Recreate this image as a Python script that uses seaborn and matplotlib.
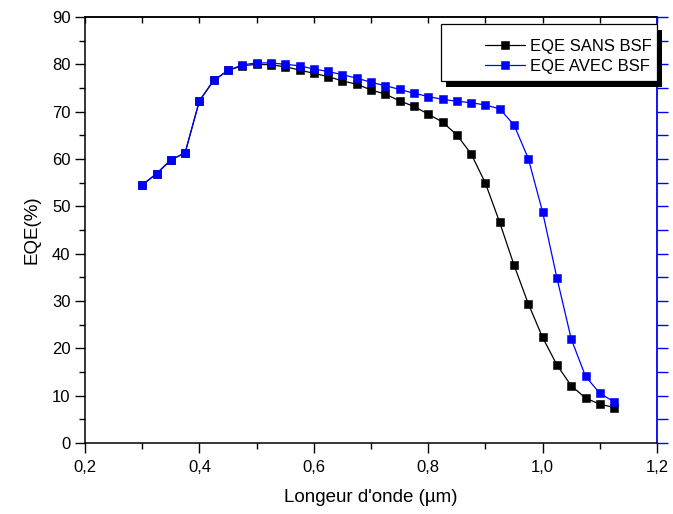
import numpy as np
import pandas as pd
import matplotlib
matplotlib.use("Agg")
import matplotlib.pyplot as plt
import matplotlib.patheffects as pe
from matplotlib.patches import Rectangle
from matplotlib.ticker import MultipleLocator, FuncFormatter
import seaborn as sns

# Wavelength (µm) and external quantum efficiency (%)
wavelength = [0.300, 0.325, 0.350, 0.375, 0.400, 0.425, 0.450, 0.475, 0.500,
              0.525, 0.550, 0.575, 0.600, 0.625, 0.650, 0.675, 0.700, 0.725,
              0.750, 0.775, 0.800, 0.825, 0.850, 0.875, 0.900, 0.925, 0.950,
              0.975, 1.000, 1.025, 1.050, 1.075, 1.100, 1.125]
eqe_sans_bsf = [54.5, 56.9, 59.8, 61.3, 72.3, 76.6, 78.7, 79.7, 80.0, 79.9,
                79.5, 78.8, 78.1, 77.4, 76.5, 75.8, 74.6, 73.7, 72.3, 71.1,
                69.5, 67.8, 65.1, 61.1, 54.9, 46.6, 37.6, 29.4, 22.3, 16.5,
                12.1, 9.5, 8.2, 7.5]
eqe_avec_bsf = [54.5, 56.9, 59.8, 61.3, 72.3, 76.6, 78.7, 79.9, 80.3, 80.3,
                80.0, 79.7, 79.0, 78.5, 77.8, 77.1, 76.2, 75.5, 74.7, 73.9,
                73.2, 72.6, 72.2, 71.9, 71.4, 70.6, 67.2, 60.1, 48.8, 34.9,
                22.0, 14.1, 10.5, 8.7]
series_labels = ["EQE SANS BSF", "EQE AVEC BSF"]
series_colors = ["#000000", "#0000ff"]

sns.set_style("ticks")
plt.rcParams["font.family"] = ["Liberation Sans", "DejaVu Sans"]
plt.rcParams.update({"text.color": "black", "axes.labelcolor": "black",
                     "xtick.color": "black", "ytick.color": "black"})

fig = plt.figure(figsize=(6.73, 5.14), dpi=100)
ax = fig.add_axes([85 / 673, 1 - 443 / 514, 572 / 673, 426 / 514])

for vals, lab, col in zip([eqe_sans_bsf, eqe_avec_bsf], series_labels, series_colors):
    sns.lineplot(x=wavelength, y=vals, ax=ax, color=col, label=lab,
                 marker="s", markersize=6.3, markeredgecolor=col,
                 markeredgewidth=0.4, linewidth=0.9)

ax.set_xlim(0.2, 1.2)
ax.set_ylim(0, 90)
ax.xaxis.set_major_locator(MultipleLocator(0.2))
ax.xaxis.set_minor_locator(MultipleLocator(0.1))
ax.yaxis.set_major_locator(MultipleLocator(10))
ax.yaxis.set_minor_locator(MultipleLocator(5))
ax.xaxis.set_major_formatter(FuncFormatter(lambda v, p: f"{v:.1f}".replace(".", ",")))
ax.tick_params(which="major", direction="out", length=7, width=1.0,
               labelsize=12, colors="black", right=False, top=False)
ax.tick_params(which="minor", direction="out", length=4, width=1.0,
               colors="black", right=False, top=False)
ax.tick_params(axis="x", pad=5)

for side in ["left", "bottom", "top"]:
    ax.spines[side].set_linewidth(1.1)
    ax.spines[side].set_color("black")
ax.spines["right"].set_visible(False)

# Top axis: inward ticks every 0.1
top = ax.secondary_xaxis("top")
top.set_xticks(np.arange(0.2, 1.21, 0.1))
top.tick_params(direction="in", length=4, width=1.0, colors="black",
                labeltop=False)
top.spines["top"].set_linewidth(1.1)
top.spines["top"].set_color("black")

# Right axis in blue: outward ticks every 5
right = ax.secondary_yaxis("right")
right.set_yticks(np.arange(0, 91, 5))
right.tick_params(direction="out", length=8, width=1.0, colors="#0000ff",
                  labelright=False)
right.spines["right"].set_color("#0000ff")
right.spines["right"].set_linewidth(1.3)

ax.set_xlabel("Longeur d'onde (µm)", fontsize=13.5, labelpad=10)
ax.set_ylabel("EQE(%)", fontsize=13.5, labelpad=8)

# Legend box with a solid black drop shadow
box = Rectangle((0.622, 0.85), 0.378, 0.134, transform=ax.transAxes,
                facecolor="white", edgecolor="black", linewidth=0.9,
                zorder=4, clip_on=False)
box.set_path_effects([pe.SimplePatchShadow(offset=(3.8, -4.2),
                                           shadow_rgbFace="black", alpha=1),
                      pe.Normal()])
ax.add_patch(box)

leg = ax.legend(loc="upper right", bbox_to_anchor=(0.991, 0.948),
                borderaxespad=0, borderpad=0, frameon=False,
                fontsize=12, numpoints=1, handlelength=2.4,
                handletextpad=0.3, labelspacing=0.3)
leg.set_zorder(5)

fig.savefig("out.png", dpi=100)
